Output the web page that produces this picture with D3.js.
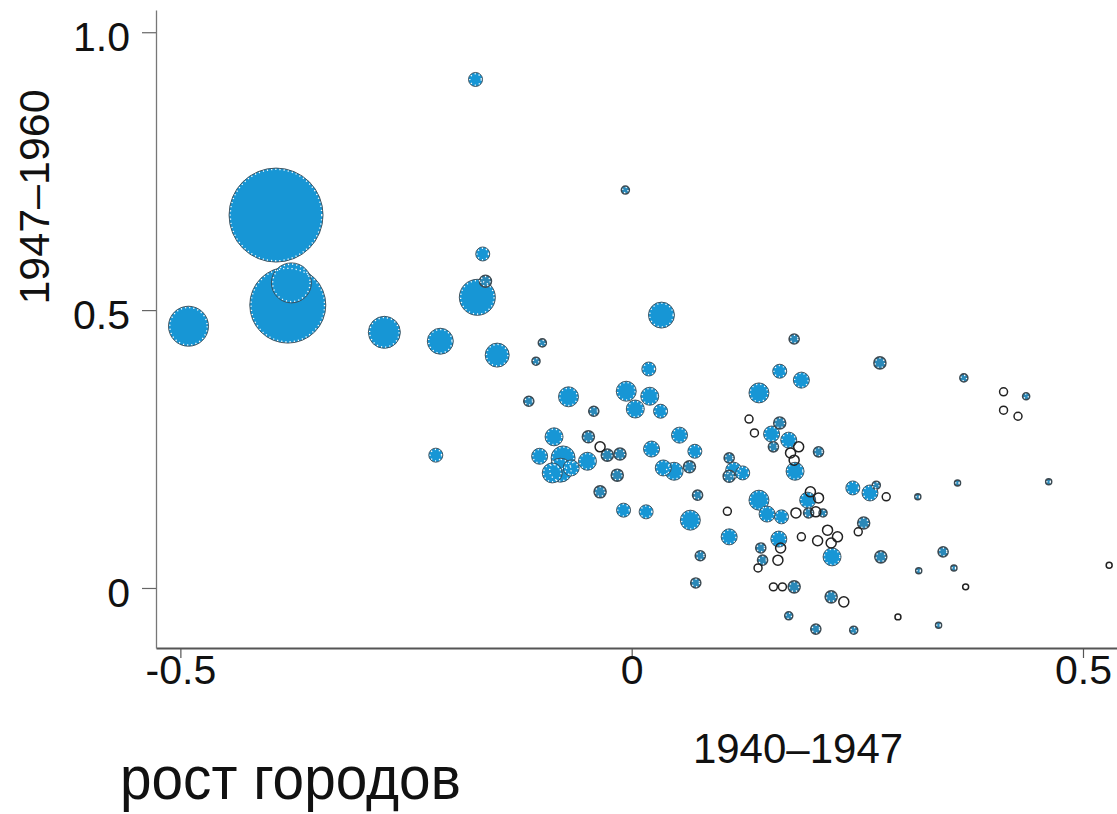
<!DOCTYPE html>
<html>
<head>
<meta charset="utf-8">
<script src="https://cdn.jsdelivr.net/npm/d3@7"></script>
<style>
  body { margin: 0; background: #fff; }
  text { font-family: "Liberation Sans", Arial, Helvetica, sans-serif; fill: #111; }
</style>
</head>
<body>
<div id="chart"></div>
<script>
// growth of cities: 1940-1947 (x) vs 1947-1960 (y), circle area ~ population
const blueX = [-0.394,-0.381,-0.377,-0.491,-0.274,-0.212,-0.171,-0.149,-0.173,-0.007,-0.165,-0.162,0.033,-0.099,-0.106,0.019,0.180,0.275,0.164,0.188,0.141,-0.114,-0.070,-0.042,-0.006,0.020,0.004,0.032,0.164,0.155,0.174,0.157,0.207,0.181,-0.086,-0.102,-0.076,-0.079,-0.088,-0.067,-0.049,-0.048,-0.027,-0.013,-0.016,0.022,0.053,0.070,0.035,0.047,0.064,0.108,0.113,0.123,0.108,-0.217,-0.035,-0.009,0.016,0.065,0.073,0.108,0.076,0.071,0.141,0.150,0.166,0.195,0.196,0.212,0.245,0.264,0.271,0.257,0.222,0.163,0.143,0.145,0.276,0.180,0.221,0.174,0.204,0.246,0.368,0.437,0.361,0.462,0.317,0.345,0.357,0.318,0.340];
const blueY = [0.671,0.509,0.549,0.471,0.460,0.444,0.523,0.419,0.915,0.716,0.601,0.552,0.491,0.441,0.408,0.394,0.448,0.405,0.390,0.374,0.351,0.336,0.344,0.318,0.354,0.345,0.322,0.318,0.297,0.277,0.266,0.254,0.245,0.210,0.272,0.237,0.234,0.212,0.207,0.216,0.228,0.272,0.239,0.241,0.203,0.250,0.275,0.246,0.216,0.210,0.218,0.234,0.212,0.207,0.201,0.239,0.173,0.140,0.137,0.122,0.167,0.092,0.058,0.009,0.158,0.133,0.128,0.158,0.135,0.135,0.180,0.171,0.185,0.117,0.056,0.088,0.072,0.050,0.056,0.002,-0.016,-0.050,-0.074,-0.076,0.378,0.345,0.189,0.191,0.164,0.065,0.036,0.031,-0.067];
const bluePop = [5000,3270,905,905,580,382,733,326,111,36,111,81,382,36,36,111,57,81,111,145,226,57,226,57,226,183,183,111,81,145,145,57,57,183,183,145,326,326,226,145,183,81,81,81,81,145,145,111,145,183,81,57,145,111,81,111,81,111,111,226,57,145,57,57,226,145,111,145,57,36,111,145,36,81,183,145,57,57,81,81,81,36,57,36,36,28,20,20,20,57,20,20,20];

const openX = [0.130,0.136,0.185,0.180,0.176,-0.035,0.106,0.182,0.207,0.204,0.282,0.251,0.217,0.228,0.221,0.206,0.188,0.165,0.162,0.140,0.157,0.167,0.235,0.412,0.412,0.428,0.370,0.295,0.529,0.198];
const openY = [0.304,0.279,0.254,0.230,0.243,0.254,0.138,0.135,0.162,0.137,0.164,0.101,0.104,0.092,0.081,0.085,0.092,0.072,0.050,0.036,0.002,0.002,-0.025,0.353,0.320,0.309,0.002,-0.052,0.041,0.173];
const openPop = [36,36,57,57,57,57,36,57,57,57,36,36,57,57,57,57,36,57,57,36,36,36,57,36,36,36,20,20,20,57];

const xTicks = [-0.5, 0, 0.5];
const xTickLabels = ["-0.5", "0", "0.5"];
const yTicks = [0, 0.5, 1.0];
const yTickLabels = ["0", "0.5", "1.0"];

const xTitle = "1940–1947";
const yTitle = "1947–1960";
const caption = "рост городов";

function drawChart() {
  const width = 1117, height = 814;

  const svg = d3.select("#chart").append("svg")
    .attr("width", width)
    .attr("height", height);

  svg.append("rect")
    .attr("width", width)
    .attr("height", height)
    .attr("fill", "#fff");

  let x = d3.scaleLinear().domain([-0.527, 0.541]).range([156, 1120]);
  let y = d3.scaleLinear().domain([-0.108, 1.04]).range([648, 10]);
  let r = d3.scaleSqrt().domain([0, 5000]).range([0, 47]);

  // axes
  let xAxis = d3.axisBottom(x)
    .tickValues(xTicks)
    .tickFormat((d, i) => xTickLabels[i])
    .tickSizeInner(10)
    .tickSizeOuter(0)
    .tickPadding(-3);

  let yAxis = d3.axisLeft(y)
    .tickValues(yTicks)
    .tickFormat((d, i) => yTickLabels[i])
    .tickSizeInner(14)
    .tickSizeOuter(0)
    .tickPadding(12);

  let gx = svg.append("g")
    .attr("transform", "translate(0,648)")
    .call(xAxis);
  gx.select(".domain").attr("stroke", "#555").attr("stroke-width", 1.8);
  gx.selectAll(".tick line").attr("stroke", "#555").attr("stroke-width", 1.2);
  gx.selectAll(".tick text")
    .attr("font-size", 41)
    .attr("font-family", "Liberation Sans, Arial, sans-serif")
    .attr("fill", "#111");

  let gy = svg.append("g")
    .attr("transform", "translate(156,0)")
    .call(yAxis);
  gy.select(".domain").attr("stroke", "#777").attr("stroke-width", 1.3);
  gy.selectAll(".tick line").attr("stroke", "#666").attr("stroke-width", 1.2);
  gy.selectAll(".tick text")
    .attr("font-size", 41)
    .attr("dy", "0.45em")
    .attr("font-family", "Liberation Sans, Arial, sans-serif")
    .attr("fill", "#111");

  // filled cities, big ones first so small ones stay visible
  let blue = blueX.map((d, i) => ({x: d, y: blueY[i], pop: bluePop[i]}))
    .sort((a, b) => b.pop - a.pop);
  let open = openX.map((d, i) => ({x: d, y: openY[i], pop: openPop[i]}));

  let plot = svg.append("g");

  plot.selectAll("circle.city")
    .data(blue)
    .join("circle")
    .attr("class", "city")
    .attr("cx", d => x(d.x))
    .attr("cy", d => y(d.y))
    .attr("r", d => r(d.pop))
    .attr("fill", d => r(d.pop) < 6 ? "#2a88b8" : "#1796d5")
    .attr("stroke", "#3d4a52")
    .attr("stroke-width", d => r(d.pop) < 6 ? 1.6 : 0.9);

  plot.selectAll("circle.dots")
    .data(blue)
    .join("circle")
    .attr("class", "dots")
    .attr("cx", d => x(d.x))
    .attr("cy", d => y(d.y))
    .attr("r", d => Math.max(r(d.pop) - 1.3, 1))
    .attr("fill", "none")
    .attr("stroke", "#fff")
    .attr("stroke-width", 1.3)
    .attr("stroke-dasharray", "1.2 3");

  plot.selectAll("circle.open")
    .data(open)
    .join("circle")
    .attr("class", "open")
    .attr("cx", d => x(d.x))
    .attr("cy", d => y(d.y))
    .attr("r", d => r(d.pop))
    .attr("fill", "none")
    .attr("stroke", "#222")
    .attr("stroke-width", 1.5);

  // titles
  svg.append("text")
    .attr("x", 798)
    .attr("y", 763)
    .attr("text-anchor", "middle")
    .attr("font-size", 42)
    .text(xTitle);

  svg.append("text")
    .attr("transform", "translate(49,197) rotate(-90)")
    .attr("text-anchor", "middle")
    .attr("font-size", 43)
    .text(yTitle);

  svg.append("text")
    .attr("transform", "translate(120,799) scale(0.93,1)")
    .attr("font-size", 61)
    .text(caption);
}

drawChart();
</script>
</body>
</html>
